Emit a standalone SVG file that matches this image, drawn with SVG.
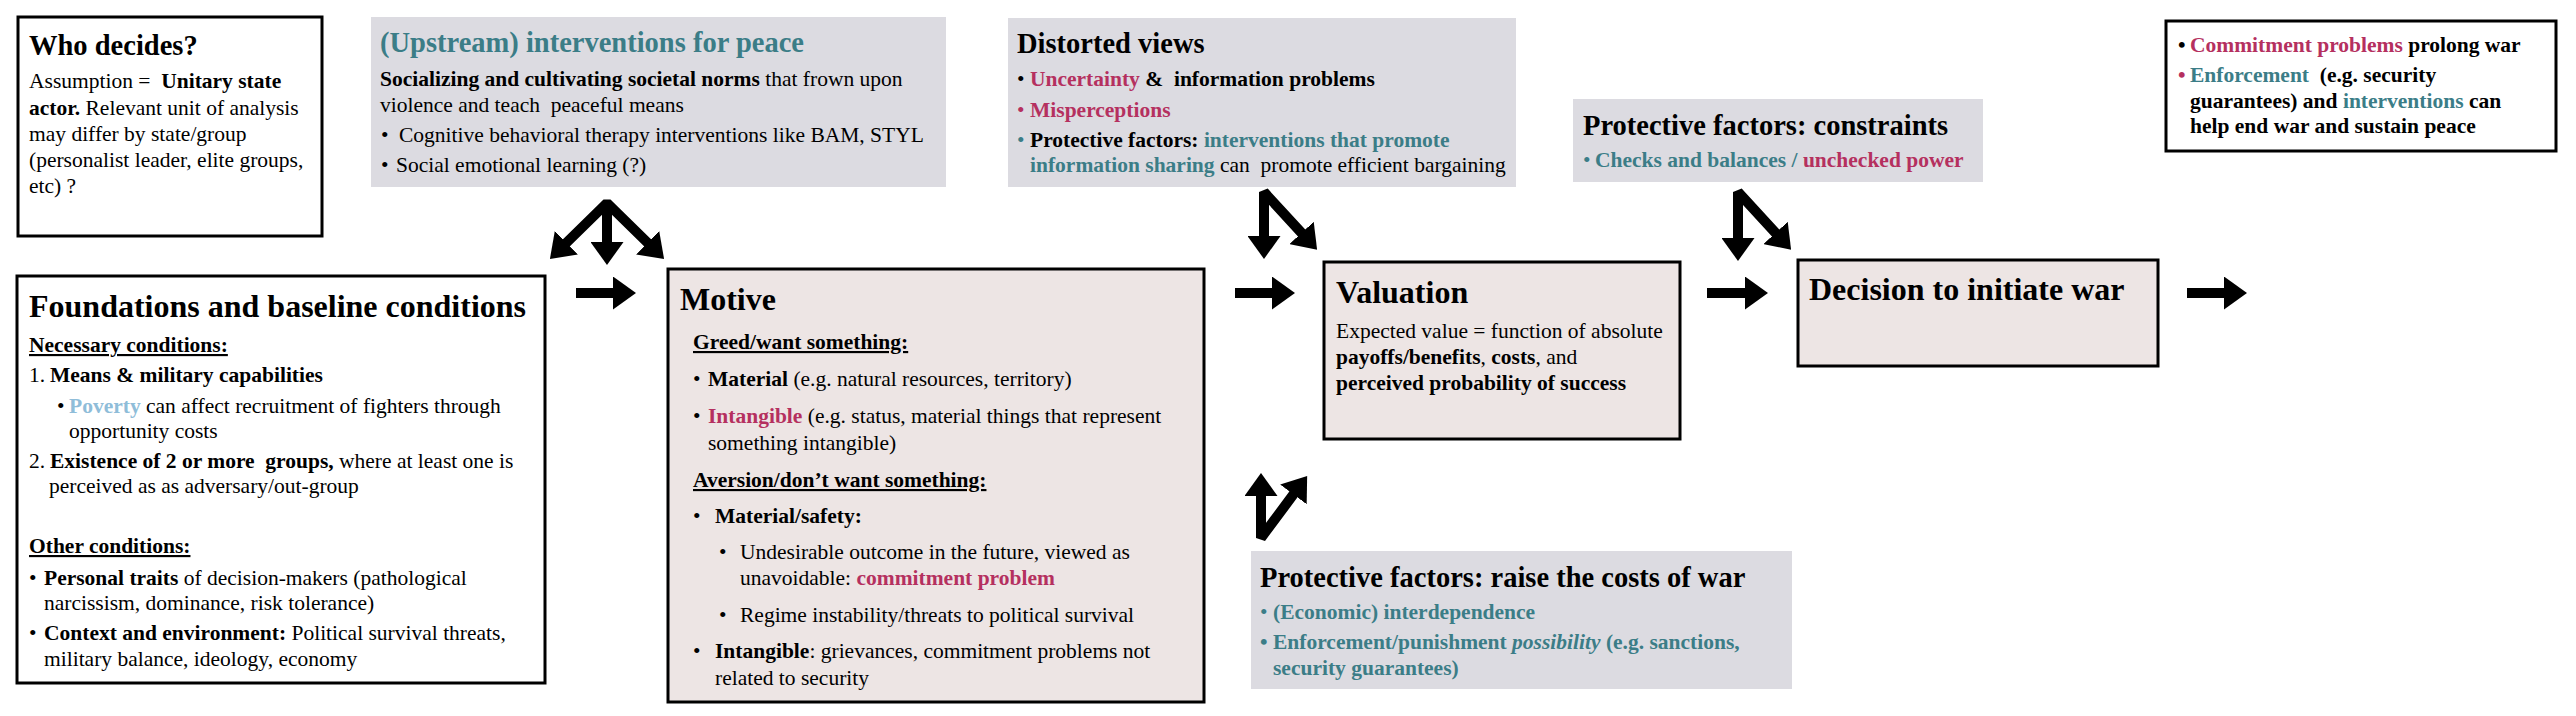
<svg xmlns="http://www.w3.org/2000/svg" width="2576" height="716" viewBox="0 0 2576 716">
<style>
text { font-family: "Liberation Serif", "Times New Roman", serif; font-size: 21.5px; fill: #000; }
.b { font-weight: bold; }
.h1 { font-size: 28.5px; font-weight: bold; }
.h2 { font-size: 32px; font-weight: bold; }
.pk { fill: #b5305f; }
.tl { fill: #3b7d87; }
.lb { fill: #8fbdd9; }
.u { text-decoration: underline; }
.wbox { fill: #fff; stroke: #000; stroke-width: 3; }
.pbox { fill: #ede5e4; stroke: #000; stroke-width: 3; }
.gbox { fill: #dcdbe1; stroke: none; }
.arr { fill: none; stroke: #000; stroke-width: 10; stroke-linejoin: bevel; marker-end: url(#ah); }
.arr2 { fill: none; stroke: #000; stroke-width: 10; stroke-linejoin: bevel; marker-start: url(#ah); marker-end: url(#ah); }
</style>
<defs>
<marker id="ah" viewBox="0 0 23 33" markerWidth="2.3" markerHeight="3.3" refX="11" refY="16.5" orient="auto-start-reverse" markerUnits="strokeWidth">
<path d="M0,0 L23,16.5 L0,33 z" fill="#000"/>
</marker>
</defs>
<rect width="2576" height="716" fill="#fff"/>

<g id="who-decides">
<rect class="wbox" x="18" y="17" width="304" height="219"/>
<text class="h1" x="29" y="55">Who decides?</text>
<text x="29" y="88" xml:space="preserve">Assumption =  <tspan class="b">Unitary state</tspan></text>
<text x="29" y="115"><tspan class="b">actor.</tspan> Relevant unit of analysis</text>
<text x="29" y="141">may differ by state/group</text>
<text x="29" y="167">(personalist leader, elite groups,</text>
<text x="29" y="193">etc) ?</text>
</g>

<g id="upstream">
<rect class="gbox" x="371" y="17" width="575" height="170"/>
<text class="h1 tl" x="380" y="52">(Upstream) interventions for peace</text>
<text x="380" y="86"><tspan class="b">Socializing and cultivating societal norms</tspan> that frown upon</text>
<text x="380" y="112" xml:space="preserve">violence and teach  peaceful means</text>
<text y="142"><tspan x="381">•</tspan><tspan x="399">Cognitive behavioral therapy interventions like BAM, STYL</tspan></text>
<text y="172"><tspan x="381">•</tspan><tspan x="396">Social emotional learning (?)</tspan></text>
</g>

<g id="foundations">
<rect class="wbox" x="17" y="276" width="528" height="407"/>
<text class="h2" x="29" y="317">Foundations and baseline conditions</text>
<text class="b u" x="29" y="352">Necessary conditions:</text>
<text y="382"><tspan x="29">1.</tspan><tspan class="b" x="50">Means &amp; military capabilities</tspan></text>
<text y="413"><tspan x="57">•</tspan><tspan x="69" class="b lb">Poverty</tspan> can affect recruitment of fighters through</text>
<text x="69" y="438">opportunity costs</text>
<text y="468" xml:space="preserve"><tspan x="29">2.</tspan><tspan class="b" x="50">Existence of 2 or more  groups,</tspan> where at least one is</text>
<text x="49" y="493">perceived as as adversary/out-group</text>
<text class="b u" x="29" y="553">Other conditions:</text>
<text y="585"><tspan x="29">•</tspan><tspan x="44" class="b">Personal traits</tspan> of decision-makers (pathological</text>
<text x="44" y="610">narcissism, dominance, risk tolerance)</text>
<text y="640"><tspan x="29">•</tspan><tspan x="44" class="b">Context and environment:</tspan> Political survival threats,</text>
<text x="44" y="666">military balance, ideology, economy</text>
</g>

<g id="motive">
<rect class="pbox" x="668" y="269" width="536" height="433"/>
<text class="h2" x="680" y="310">Motive</text>
<text class="b u" x="693" y="349">Greed/want something:</text>
<text y="386"><tspan x="693">•</tspan><tspan x="708" class="b">Material</tspan> (e.g. natural resources, territory)</text>
<text y="423"><tspan x="693">•</tspan><tspan x="708" class="b pk">Intangible</tspan> (e.g. status, material things that represent</text>
<text x="708" y="450">something intangible)</text>
<text class="b u" x="693" y="487">Aversion/don’t want something:</text>
<text y="523"><tspan x="693">•</tspan><tspan x="715" class="b">Material/safety:</tspan></text>
<text y="559"><tspan x="719">•</tspan><tspan x="740">Undesirable outcome in the future, viewed as</tspan></text>
<text x="740" y="585">unavoidable: <tspan class="b pk">commitment problem</tspan></text>
<text y="622"><tspan x="719">•</tspan><tspan x="740">Regime instability/threats to political survival</tspan></text>
<text y="658"><tspan x="693">•</tspan><tspan x="715" class="b">Intangible</tspan>: grievances, commitment problems not</text>
<text x="715" y="685">related to security</text>
</g>

<g id="distorted-views">
<rect class="gbox" x="1008" y="18" width="508" height="169"/>
<text class="h1" x="1017" y="53">Distorted views</text>
<text y="86" xml:space="preserve"><tspan x="1017">•</tspan><tspan x="1030" class="b pk">Uncertainty</tspan><tspan class="b"> &amp;  information problems</tspan></text>
<text y="117"><tspan x="1017" class="pk">•</tspan><tspan x="1030" class="b pk">Misperceptions</tspan></text>
<text y="147"><tspan x="1017" class="tl">•</tspan><tspan x="1030" class="b">Protective factors: </tspan><tspan class="b tl">interventions that promote</tspan></text>
<text x="1030" y="172" xml:space="preserve"><tspan class="b tl">information sharing</tspan> can  promote efficient bargaining</text>
</g>

<g id="valuation">
<rect class="pbox" x="1324" y="262" width="356" height="177"/>
<text class="h2" x="1336" y="303">Valuation</text>
<text x="1336" y="338">Expected value = function of absolute</text>
<text x="1336" y="364"><tspan class="b">payoffs/benefits</tspan>, <tspan class="b">costs</tspan>, and</text>
<text class="b" x="1336" y="390">perceived probability of success</text>
</g>

<g id="raise-costs">
<rect class="gbox" x="1251" y="551" width="541" height="138"/>
<text class="h1" x="1260" y="587">Protective factors: raise the costs of war</text>
<text y="619"><tspan x="1260" class="tl">•</tspan><tspan x="1273" class="b tl">(Economic) interdependence</tspan></text>
<text y="649" class="b tl"><tspan x="1260">•</tspan><tspan x="1273">Enforcement/punishment </tspan><tspan font-style="italic">possibility</tspan> (e.g. sanctions,</text>
<text x="1273" y="675" class="b tl">security guarantees)</text>
</g>

<g id="constraints">
<rect class="gbox" x="1573" y="99" width="410" height="83"/>
<text class="h1" x="1583" y="135">Protective factors: constraints</text>
<text y="167"><tspan x="1583" class="tl">•</tspan><tspan x="1595" class="b tl">Checks and balances /</tspan><tspan class="b pk"> unchecked power</tspan></text>
</g>

<g id="decision">
<rect class="pbox" x="1798" y="260" width="360" height="106"/>
<text class="h2" x="1809" y="300">Decision to initiate war</text>
</g>

<g id="war-end">
<rect class="wbox" x="2166" y="21" width="390" height="130"/>
<text y="52" class="b"><tspan x="2178">•</tspan><tspan x="2190" class="pk">Commitment problems</tspan> prolong war</text>
<text y="82" class="b" xml:space="preserve"><tspan x="2178" class="pk">•</tspan><tspan x="2190" class="tl">Enforcement</tspan>  (e.g. security</text>
<text x="2190" y="108" class="b">guarantees) and <tspan class="tl">interventions</tspan> can</text>
<text x="2190" y="133" class="b">help end war and sustain peace</text>
</g>

<g id="connectors">
<line class="arr" x1="576" y1="293" x2="624" y2="293"/>
<line class="arr" x1="1235" y1="293" x2="1283" y2="293"/>
<line class="arr" x1="1707" y1="293" x2="1756" y2="293"/>
<line class="arr" x1="2187" y1="293" x2="2235" y2="293"/>
<path class="arr2" d="M558.5,250.5 L607,203 L655.5,250.5"/>
<path class="arr" d="M607,203 L607,253"/>
<path class="arr2" d="M1264,247 L1264,192 L1309,241"/>
<path class="arr2" d="M1738,249 L1738,192 L1783,241"/>
<path class="arr2" d="M1261,485 L1261,538 L1300,485.6"/>
</g>
</svg>
